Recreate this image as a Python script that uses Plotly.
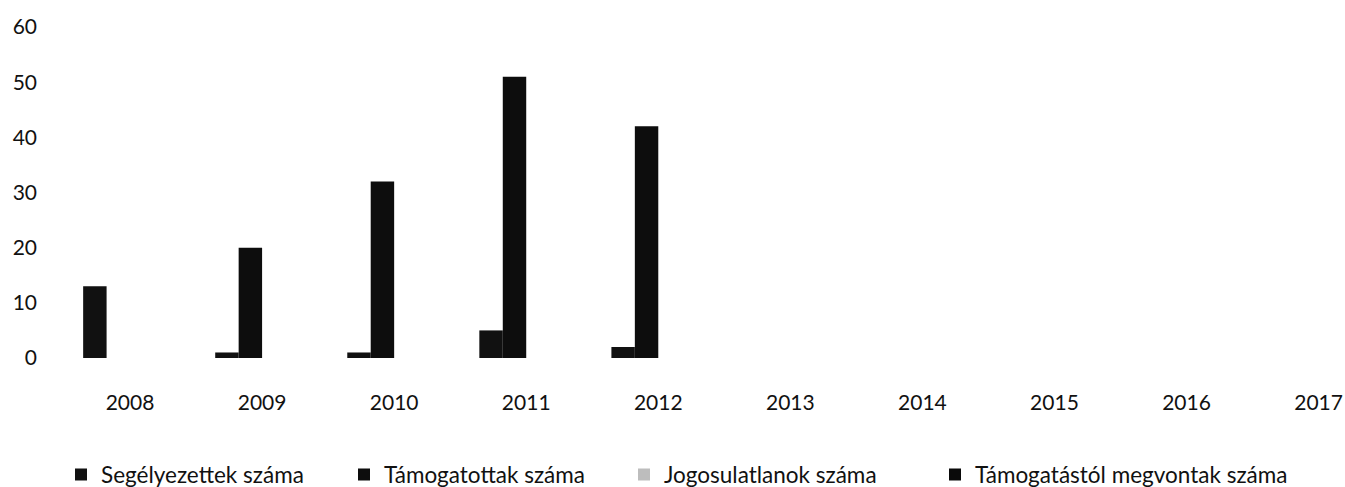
import plotly.graph_objects as go

years = ["2008", "2009", "2010", "2011", "2012", "2013", "2014", "2015", "2016", "2017"]
segelyezettek = [13, 1, 1, 5, 2, None, None, None, None, None]
tamogatottak = [0, 20, 32, 51, 42, None, None, None, None, None]
jogosulatlanok = [0, 0, 0, 0, 0, None, None, None, None, None]
megvontak = [0, 0, 0, 0, 0, None, None, None, None, None]

names = ["Segélyezettek száma", "Támogatottak száma", "Jogosulatlanok száma", "Támogatástól megvontak száma"]
series = [segelyezettek, tamogatottak, jogosulatlanok, megvontak]
colors = ["#111111", "#0d0d0d", "#bdbdbd", "#0a0a0a"]
legend_ids = ["legend", "legend2", "legend3", "legend4"]
legend_left_px = [61, 344, 624, 935]

fig = go.Figure()
for n, s, c, lg in zip(names, series, colors, legend_ids):
    fig.add_trace(go.Bar(x=years, y=s, name=n, legend=lg,
                         marker=dict(color=c, line=dict(width=0))))

font = "Lato, 'Open Sans', sans-serif"
legend_style = dict(orientation="h", xref="container", xanchor="left",
                    y=-0.353, yanchor="middle", bgcolor="rgba(0,0,0,0)",
                    font=dict(size=22.5, color="#111"), itemwidth=30)
legends = {lg: dict(legend_style, x=px / 1345) for lg, px in zip(legend_ids, legend_left_px)}

fig.update_layout(
    width=1345, height=487,
    paper_bgcolor="white", plot_bgcolor="white",
    margin=dict(l=64, r=0, t=27, b=129, autoexpand=False),
    barmode="group", bargap=0.29, bargroupgap=0,
    font=dict(family=font, size=21, color="#111"),
    showlegend=True,
    **legends,
)
fig.update_xaxes(range=[-0.5, 9.2], showgrid=False, showline=False, zeroline=False, automargin=False,
                 ticks="", ticklabelstandoff=30, tickfont=dict(size=21))
fig.update_yaxes(range=[0, 60], dtick=10, showgrid=False, showline=False, zeroline=False, automargin=False,
                 ticks="", ticklabelstandoff=26, tickfont=dict(size=21))

fig.write_html("out.html", config={"displayModeBar": False},
               post_script="document.body.style.margin='0';document.body.style.overflow='hidden';")
